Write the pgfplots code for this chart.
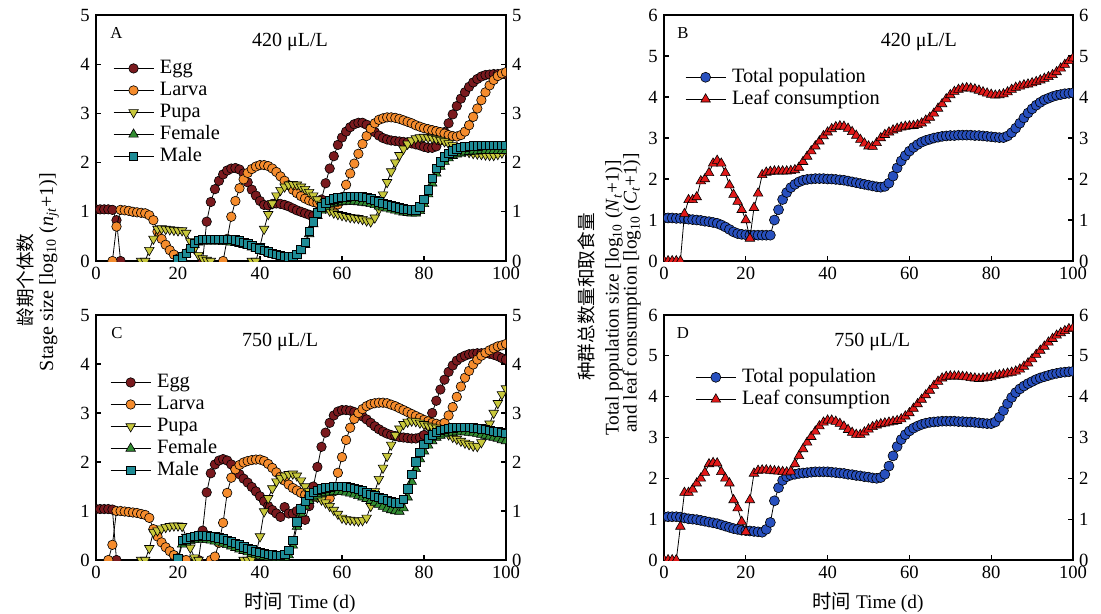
\documentclass[border=0pt]{standalone}
\usepackage{fontspec}
\setmainfont{Liberation Serif}
\newfontfamily\cjk{Noto Sans CJK SC}
\usepackage{pgfplots}
\usepackage{pgfplotstable}
\pgfplotsset{compat=1.18}

\definecolor{cegg}{RGB}{122,26,30}
\definecolor{clar}{RGB}{245,140,45}
\definecolor{cpup}{RGB}{200,200,60}
\definecolor{cfem}{RGB}{50,140,50}
\definecolor{cmal}{RGB}{30,140,150}
\definecolor{cpop}{RGB}{40,80,190}
\definecolor{cleaf}{RGB}{225,25,25}

% 420 uL/L, stages
\pgfplotstableread{
d egg lar pup fem mal
0 1.05 nan nan nan nan
1 1.05 nan nan nan nan
2 1.05 nan nan nan nan
3 1.05 nan nan nan nan
4 1.04 0 nan nan nan
5 0.83 0.70 nan nan nan
6 0 1.04 nan nan nan
7 nan 1.03 nan nan nan
8 nan 1.02 nan nan nan
9 nan 1.00 nan nan nan
10 nan 0.99 nan nan nan
11 nan 0.98 0 nan nan
12 nan 0.97 0 nan nan
13 nan 0.93 0.22 nan nan
14 nan 0.83 0.45 nan nan
15 nan 0.60 0.65 nan nan
16 nan 0.45 0.66 nan nan
17 nan 0.33 0.65 nan nan
18 nan 0.22 0.64 nan nan
19 nan 0.13 0.63 nan nan
20 nan 0.05 0.62 0.02 0.02
21 nan 0 0.62 0.08 0.09
22 nan nan 0.57 0.15 0.16
23 nan nan 0.40 0.24 0.26
24 nan nan 0.25 0.33 0.36
25 nan nan 0.12 0.38 0.42
26 0 nan 0.05 0.40 0.44
27 0.80 nan 0.02 0.40 0.44
28 1.20 nan 0 0.40 0.44
29 1.46 nan nan 0.40 0.44
30 1.63 nan nan 0.40 0.44
31 1.76 0 nan 0.39 0.44
32 1.84 0.45 nan 0.39 0.44
33 1.88 0.90 nan 0.38 0.44
34 1.89 1.22 nan 0.37 0.43
35 1.86 1.48 nan 0.35 0.41
36 1.78 1.66 nan 0.33 0.38
37 1.60 1.79 nan 0.31 0.35
38 1.45 1.87 0 0.28 0.32
39 1.33 1.92 0 0.25 0.28
40 1.22 1.95 0.30 0.22 0.25
41 1.14 1.95 0.65 0.19 0.22
42 1.13 1.93 0.95 0.16 0.19
43 1.16 1.88 1.17 0.13 0.16
44 1.17 1.81 1.33 0.11 0.14
45 1.16 1.72 1.44 0.09 0.12
46 1.14 1.63 1.51 0.07 0.10
47 1.11 1.54 1.55 0.06 0.09
48 1.07 1.45 1.56 0.07 0.10
49 1.03 1.38 1.55 0.10 0.14
50 1.00 1.32 1.51 0.20 0.24
51 0.97 1.27 1.46 0.33 0.38
52 0.94 1.23 1.40 0.55 0.60
53 0.92 1.20 1.33 0.75 0.80
54 1.00 1.18 1.25 0.92 0.98
55 1.25 1.16 1.16 1.03 1.10
56 1.58 1.14 1.08 1.10 1.18
57 1.88 1.12 1.02 1.15 1.23
58 2.13 1.11 0.98 1.17 1.26
59 2.36 1.15 0.95 1.19 1.28
60 2.51 1.30 0.93 1.20 1.29
61 2.63 1.55 0.91 1.21 1.30
62 2.72 1.78 0.89 1.21 1.31
63 2.78 1.98 0.88 1.21 1.31
64 2.81 2.18 0.87 1.20 1.31
65 2.81 2.38 0.85 1.19 1.30
66 2.77 2.54 0.82 1.18 1.29
67 2.70 2.69 0.80 1.16 1.26
68 2.62 2.80 0.88 1.14 1.23
69 2.55 2.87 1.05 1.11 1.20
70 2.50 2.90 1.35 1.09 1.17
71 2.47 2.92 1.60 1.07 1.15
72 2.45 2.92 1.82 1.05 1.12
73 2.44 2.91 2.00 1.03 1.10
74 2.43 2.89 2.15 1.01 1.08
75 2.42 2.86 2.28 0.99 1.06
76 2.41 2.83 2.38 0.98 1.05
77 2.39 2.80 2.45 0.97 1.04
78 2.37 2.76 2.49 0.97 1.04
79 2.35 2.73 2.51 1.02 1.10
80 2.32 2.70 2.52 1.16 1.25
81 2.30 2.68 2.51 1.36 1.45
82 2.30 2.66 2.50 1.58 1.68
83 2.33 2.64 2.48 1.78 1.88
84 2.45 2.62 2.46 1.92 2.02
85 2.62 2.59 2.43 2.02 2.12
86 2.80 2.56 2.39 2.09 2.19
87 2.98 2.54 2.35 2.14 2.24
88 3.15 2.53 2.30 2.17 2.28
89 3.30 2.56 2.26 2.19 2.31
90 3.43 2.63 2.23 2.21 2.32
91 3.54 2.76 2.21 2.22 2.33
92 3.63 2.93 2.19 2.23 2.34
93 3.70 3.10 2.18 2.23 2.34
94 3.75 3.27 2.17 2.24 2.35
95 3.78 3.43 2.16 2.24 2.35
96 3.79 3.57 2.15 2.24 2.35
97 3.80 3.68 2.15 2.24 2.35
98 3.80 3.76 2.17 2.24 2.35
99 3.80 3.81 2.20 2.24 2.35
100 3.79 3.84 2.24 2.24 2.35
}\tA

% 750 uL/L, stages
\pgfplotstableread{
d egg lar pup fem mal
0 1.04 nan nan nan nan
1 1.04 nan nan nan nan
2 1.04 nan nan nan nan
3 1.04 0 nan nan nan
4 1.03 0.31 nan nan nan
5 0 1.00 nan nan nan
6 nan 1.00 nan nan nan
7 nan 0.99 nan nan nan
8 nan 0.98 nan nan nan
9 nan 0.97 nan nan nan
10 nan 0.96 nan nan nan
11 nan 0.94 0 nan nan
12 nan 0.92 0 nan nan
13 nan 0.86 0.24 nan nan
14 nan 0.63 0.57 nan nan
15 nan 0.48 0.60 nan nan
16 nan 0.36 0.64 nan nan
17 nan 0.26 0.67 nan nan
18 nan 0.18 0.69 nan nan
19 nan 0.10 0.70 nan nan
20 nan 0.04 0.70 0 0.02
21 nan 0 0.69 0.32 0.40
22 nan 0 0.47 0.36 0.43
23 nan nan 0.25 0.39 0.46
24 nan nan 0.05 0.41 0.48
25 0 nan 0 0.42 0.49
26 0.60 nan nan 0.42 0.50
27 1.38 nan nan 0.41 0.49
28 1.77 0 nan 0.40 0.48
29 1.95 0.07 nan 0.38 0.47
30 2.03 0.35 nan 0.36 0.45
31 2.06 0.76 nan 0.34 0.43
32 2.03 1.37 nan 0.31 0.40
33 1.95 1.68 nan 0.28 0.37
34 1.85 1.85 nan 0.25 0.34
35 1.75 1.94 nan 0.22 0.31
36 1.66 1.99 0 0.19 0.27
37 1.58 2.02 0 0.16 0.24
38 1.49 2.04 0.02 0.13 0.21
39 1.40 2.05 0.12 0.11 0.18
40 1.30 2.05 0.48 0.09 0.16
41 1.20 2.02 0.99 0.07 0.14
42 1.10 1.96 1.26 0.06 0.12
43 1.02 1.88 1.46 0.05 0.11
44 0.95 1.79 1.60 0.04 0.10
45 0.88 1.70 1.67 0.04 0.10
46 1.08 1.62 1.72 0.05 0.12
47 0.95 1.54 1.75 0.10 0.20
48 0.95 1.47 1.76 0.30 0.40
49 1.00 1.42 1.72 0.68 0.78
50 1.05 1.37 1.62 0.95 1.04
51 0.82 1.33 1.50 1.10 1.20
52 1.10 1.31 1.40 1.21 1.32
53 1.50 1.29 1.33 1.28 1.38
54 1.90 1.28 1.28 1.32 1.42
55 2.31 1.27 1.23 1.35 1.45
56 2.60 1.26 1.17 1.37 1.47
57 2.80 1.26 1.10 1.38 1.48
58 2.95 1.40 1.02 1.39 1.50
59 3.03 1.78 0.94 1.39 1.50
60 3.06 2.10 0.86 1.39 1.50
61 3.06 2.45 0.83 1.38 1.49
62 3.05 2.70 0.82 1.36 1.48
63 3.02 2.88 0.81 1.34 1.46
64 2.98 3.00 0.80 1.31 1.44
65 2.93 3.08 0.81 1.28 1.41
66 2.87 3.14 0.86 1.25 1.37
67 2.80 3.18 1.10 1.21 1.34
68 2.73 3.20 1.40 1.17 1.31
69 2.67 3.21 1.65 1.13 1.28
70 2.62 3.21 1.88 1.09 1.25
71 2.58 3.20 2.12 1.05 1.22
72 2.55 3.17 2.35 1.02 1.19
73 2.53 3.14 2.55 1.00 1.17
74 2.51 3.10 2.68 0.99 1.17
75 2.50 3.06 2.77 1.06 1.24
76 2.49 3.02 2.82 1.28 1.45
77 2.48 2.98 2.84 1.60 1.75
78 2.48 2.94 2.83 1.86 2.00
79 2.50 2.90 2.80 2.06 2.20
80 2.55 2.86 2.77 2.22 2.36
81 2.75 2.83 2.74 2.34 2.47
82 3.00 2.80 2.72 2.43 2.56
83 3.25 2.78 2.70 2.50 2.61
84 3.48 2.76 2.66 2.54 2.65
85 3.68 2.80 2.61 2.57 2.67
86 3.84 2.95 2.56 2.59 2.69
87 3.97 3.12 2.51 2.60 2.70
88 4.07 3.33 2.47 2.61 2.71
89 4.13 3.54 2.43 2.61 2.71
90 4.17 3.72 2.39 2.61 2.71
91 4.20 3.86 2.36 2.60 2.71
92 4.21 3.99 2.33 2.59 2.70
93 4.22 4.09 2.32 2.58 2.69
94 4.22 4.17 2.40 2.56 2.68
95 4.22 4.23 2.55 2.54 2.67
96 4.21 4.28 2.78 2.52 2.65
97 4.19 4.32 3.00 2.50 2.63
98 4.16 4.36 3.20 2.48 2.62
99 4.12 4.38 3.38 2.45 2.61
100 4.09 4.41 3.50 2.43 2.59
}\tC

% 420 uL/L, total population and leaf consumption
\pgfplotstableread{
d pop leaf
0 1.05 0
1 1.05 0
2 1.05 0
3 1.04 0
4 1.04 0
5 1.03 1.15
6 1.02 1.49
7 1.01 1.49
8 1.00 1.56
9 0.99 1.95
10 0.97 2.00
11 0.96 2.15
12 0.94 2.38
13 0.92 2.45
14 0.88 2.38
15 0.83 2.15
16 0.77 1.85
17 0.71 1.62
18 0.67 1.45
19 0.65 1.25
20 0.64 1.00
21 0.63 0.55
22 0.63 1.30
23 0.63 1.65
24 0.63 2.10
25 0.63 2.16
26 0.63 2.18
27 1.00 2.19
28 1.25 2.19
29 1.50 2.19
30 1.67 2.19
31 1.79 2.20
32 1.87 2.22
33 1.93 2.28
34 1.97 2.42
35 1.99 2.55
36 2.00 2.68
37 2.01 2.80
38 2.01 2.92
39 2.01 3.05
40 2.00 3.14
41 2.00 3.22
42 1.99 3.27
43 1.98 3.29
44 1.97 3.28
45 1.95 3.23
46 1.93 3.15
47 1.91 3.06
48 1.89 2.96
49 1.87 2.87
50 1.85 2.80
51 1.83 2.79
52 1.81 2.88
53 1.80 3.00
54 1.82 3.08
55 1.90 3.14
56 2.07 3.19
57 2.27 3.23
58 2.44 3.26
59 2.57 3.28
60 2.68 3.29
61 2.77 3.30
62 2.84 3.32
63 2.90 3.36
64 2.94 3.43
65 2.97 3.50
66 3.00 3.60
67 3.02 3.72
68 3.04 3.83
69 3.05 3.95
70 3.06 4.05
71 3.06 4.13
72 3.07 4.18
73 3.07 4.21
74 3.07 4.22
75 3.07 4.21
76 3.06 4.19
77 3.06 4.16
78 3.05 4.12
79 3.04 4.09
80 3.03 4.06
81 3.02 4.04
82 3.01 4.05
83 3.01 4.07
84 3.05 4.12
85 3.13 4.18
86 3.24 4.23
87 3.36 4.26
88 3.49 4.29
89 3.61 4.31
90 3.71 4.34
91 3.80 4.37
92 3.87 4.41
93 3.93 4.45
94 3.97 4.49
95 4.01 4.54
96 4.04 4.61
97 4.06 4.70
98 4.08 4.79
99 4.09 4.88
100 4.10 4.95
}\tB

% 750 uL/L, total population and leaf consumption
\pgfplotstableread{
d pop leaf
0 1.06 0
1 1.06 0
2 1.06 0
3 1.06 0
4 1.05 0.82
5 1.03 1.65
6 1.01 1.65
7 1.00 1.73
8 0.99 1.88
9 0.97 2.00
10 0.95 2.14
11 0.93 2.35
12 0.91 2.38
13 0.89 2.37
14 0.86 2.16
15 0.83 2.00
16 0.80 1.88
17 0.77 1.47
18 0.75 1.27
19 0.73 0.94
20 0.72 0.69
21 0.71 1.47
22 0.70 2.12
23 0.69 2.19
24 0.68 2.20
25 0.75 2.20
26 0.92 2.19
27 1.45 2.18
28 1.77 2.17
29 1.95 2.16
30 2.04 2.15
31 2.08 2.17
32 2.10 2.35
33 2.12 2.55
34 2.13 2.72
35 2.14 2.88
36 2.15 3.02
37 2.16 3.15
38 2.16 3.28
39 2.16 3.37
40 2.16 3.42
41 2.15 3.42
42 2.14 3.39
43 2.13 3.34
44 2.12 3.27
45 2.10 3.19
46 2.09 3.12
47 2.07 3.07
48 2.06 3.07
49 2.04 3.13
50 2.03 3.20
51 2.01 3.26
52 2.00 3.30
53 2.02 3.33
54 2.10 3.35
55 2.30 3.37
56 2.55 3.39
57 2.78 3.41
58 2.95 3.45
59 3.07 3.52
60 3.16 3.60
61 3.23 3.71
62 3.28 3.82
63 3.32 3.93
64 3.35 4.04
65 3.37 4.15
66 3.38 4.27
67 3.39 4.37
68 3.40 4.45
69 3.40 4.49
70 3.40 4.50
71 3.40 4.50
72 3.39 4.50
73 3.39 4.49
74 3.38 4.48
75 3.38 4.46
76 3.37 4.45
77 3.36 4.44
78 3.35 4.45
79 3.34 4.46
80 3.34 4.48
81 3.38 4.51
82 3.50 4.53
83 3.66 4.55
84 3.83 4.57
85 3.98 4.59
86 4.10 4.62
87 4.19 4.67
88 4.26 4.74
89 4.32 4.82
90 4.37 4.92
91 4.42 5.03
92 4.46 5.13
93 4.49 5.23
94 4.52 5.33
95 4.55 5.42
96 4.57 5.50
97 4.59 5.56
98 4.60 5.61
99 4.61 5.66
100 4.62 5.68
}\tD

\pgfplotsset{
  base/.style={
    scale only axis, xmin=0, xmax=100, xtick={0,20,40,60,80,100},
    tick align=inside, major tick length=0.1cm,
    axis line style={line width=0.7pt},
    every tick/.style={black, line width=0.6pt},
    tick label style={font=\fontsize{10.6}{12}\selectfont},
    /pgf/number format/assume math mode=true,
  },
  panel/.style={
    base, xtick pos=left, ytick pos=both, yticklabel pos=left,
    clip marker paths=true, unbounded coords=jump,
    legend cell align=left,
    legend image code/.code={\draw[mark repeat=2,mark phase=2] plot coordinates {(0cm,0cm) (0.4cm,0cm) (0.8cm,0cm)};},
    legend style={draw=none, fill=none, inner sep=0pt, anchor=north west,
      font=\fontsize{11.6}{12}\selectfont,
      nodes={inner sep=0.04cm, text height=0.28cm, text depth=0.08cm},
      /tikz/every odd column/.style={column sep=0.08cm}},
  },
  rightlabels/.style={
    base, axis x line=none, axis y line*=right,
    y axis line style={draw=none}, major tick length=0pt,
  },
  ser/.style={black, line width=0.45pt},
  egg/.style={ser, mark=*, mark size=0.095cm, mark options={solid, draw=black, line width=0.35pt, fill=cegg}},
  lar/.style={ser, mark=*, mark size=0.095cm, mark options={solid, draw=black, line width=0.35pt, fill=clar}},
  pup/.style={ser, mark=triangle*, mark size=0.11cm, mark options={solid, draw=black, line width=0.35pt, fill=cpup, rotate=180}},
  fem/.style={ser, mark=triangle*, mark size=0.11cm, mark options={solid, draw=black, line width=0.35pt, fill=cfem}},
  mal/.style={ser, mark=square*, mark size=0.085cm, mark options={solid, draw=black, line width=0.35pt, fill=cmal}},
  pop/.style={ser, mark=*, mark size=0.1cm, mark options={solid, draw=black, line width=0.35pt, fill=cpop}},
  leaf/.style={ser, mark=triangle*, mark size=0.11cm, mark options={solid, draw=black, line width=0.35pt, fill=cleaf}},
}

\begin{document}
\begin{tikzpicture}
\path[use as bounding box] (0,0) rectangle (22.02,-12.26);

% ---- A ----
\begin{axis}[panel, at={(1.92cm,-5.22cm)}, anchor=south west, width=8.2cm, height=4.92cm,
  ymin=0, ymax=5, ytick={0,...,5}, legend style={at={(0.041,0.829)}}]
\addplot[egg] table[x=d,y=egg]{\tA}; \addlegendentry{Egg}
\addplot[lar] table[x=d,y=lar]{\tA}; \addlegendentry{Larva}
\addplot[pup] table[x=d,y=pup]{\tA}; \addlegendentry{Pupa}
\addplot[fem] table[x=d,y=fem]{\tA}; \addlegendentry{Female}
\addplot[mal] table[x=d,y=mal]{\tA}; \addlegendentry{Male}
\node[font=\fontsize{9.5}{11}\selectfont] at (rel axis cs:0.05,0.927) {A};
\node[font=\fontsize{11.4}{13}\selectfont] at (rel axis cs:0.473,0.89) {420 μL/L};
\end{axis}
\begin{axis}[rightlabels, at={(1.92cm,-5.22cm)}, anchor=south west, width=8.2cm, height=4.92cm,
  ymin=0, ymax=5, ytick={0,...,5}]
\end{axis}

% ---- C ----
\begin{axis}[panel, at={(1.92cm,-11.2cm)}, anchor=south west, width=8.2cm, height=4.9cm,
  ymin=0, ymax=5, ytick={0,...,5}, legend style={at={(0.034,0.771)}}]
\addplot[egg] table[x=d,y=egg]{\tC}; \addlegendentry{Egg}
\addplot[lar] table[x=d,y=lar]{\tC}; \addlegendentry{Larva}
\addplot[pup] table[x=d,y=pup]{\tC}; \addlegendentry{Pupa}
\addplot[fem] table[x=d,y=fem]{\tC}; \addlegendentry{Female}
\addplot[mal] table[x=d,y=mal]{\tC}; \addlegendentry{Male}
\node[font=\fontsize{9.5}{11}\selectfont] at (rel axis cs:0.051,0.927) {C};
\node[font=\fontsize{11.4}{13}\selectfont] at (rel axis cs:0.449,0.89) {750 μL/L};
\end{axis}
\begin{axis}[rightlabels, at={(1.92cm,-11.2cm)}, anchor=south west, width=8.2cm, height=4.9cm,
  ymin=0, ymax=5, ytick={0,...,5}]
\end{axis}

% ---- B ----
\begin{axis}[panel, at={(13.28cm,-5.22cm)}, anchor=south west, width=8.18cm, height=4.92cm,
  ymin=0, ymax=6, ytick={0,...,6}, legend style={at={(0.051,0.793)}}]
\addplot[pop] table[x=d,y=pop]{\tB}; \addlegendentry{Total population}
\addplot[leaf] table[x=d,y=leaf]{\tB}; \addlegendentry{Leaf consumption}
\node[font=\fontsize{9.5}{11}\selectfont] at (rel axis cs:0.046,0.927) {B};
\node[font=\fontsize{11.4}{13}\selectfont] at (rel axis cs:0.623,0.89) {420 μL/L};
\end{axis}
\begin{axis}[rightlabels, at={(13.28cm,-5.22cm)}, anchor=south west, width=8.18cm, height=4.92cm,
  ymin=0, ymax=6, ytick={0,...,6}]
\end{axis}

% ---- D ----
\begin{axis}[panel, at={(13.28cm,-11.2cm)}, anchor=south west, width=8.18cm, height=4.9cm,
  ymin=0, ymax=6, ytick={0,...,6}, legend style={at={(0.076,0.792)}}]
\addplot[pop] table[x=d,y=pop]{\tD}; \addlegendentry{Total population}
\addplot[leaf] table[x=d,y=leaf]{\tD}; \addlegendentry{Leaf consumption}
\node[font=\fontsize{9.5}{11}\selectfont] at (rel axis cs:0.046,0.927) {D};
\node[font=\fontsize{11.4}{13}\selectfont] at (rel axis cs:0.509,0.89) {750 μL/L};
\end{axis}
\begin{axis}[rightlabels, at={(13.28cm,-11.2cm)}, anchor=south west, width=8.18cm, height=4.9cm,
  ymin=0, ymax=6, ytick={0,...,6}]
\end{axis}

% axis titles
\node[rotate=90, inner sep=0pt, font=\cjk\fontsize{10.6}{12}\selectfont] at (0.5,-5.6) {龄期个体数};
\node[rotate=90, inner sep=0pt, font=\fontsize{11.4}{13}\selectfont] at (0.98,-5.44) {Stage size [log\textsubscript{10} (\textit{n}\textsubscript{\textit{jt}}+1)]};
\node[rotate=90, inner sep=0pt, font=\cjk\fontsize{10.6}{12}\selectfont] at (11.72,-5.94) {种群总数量和取食量};
\node[rotate=90, inner sep=0pt, font=\fontsize{11}{13}\selectfont] at (12.28,-5.96) {Total population size [log\textsubscript{10} (\textit{N}\textsubscript{\textit{t}}+1)]};
\node[rotate=90, inner sep=0pt, font=\fontsize{11}{13}\selectfont] at (12.64,-5.86) {and leaf consumption [log\textsubscript{10} (\textit{C}\textsubscript{\textit{t}}+1)]};
\node[font=\fontsize{11}{13}\selectfont] at (6.0,-12.04) {{\cjk 时间} Time (d)};
\node[font=\fontsize{11}{13}\selectfont] at (17.36,-12.04) {{\cjk 时间} Time (d)};
\end{tikzpicture}
\end{document}
